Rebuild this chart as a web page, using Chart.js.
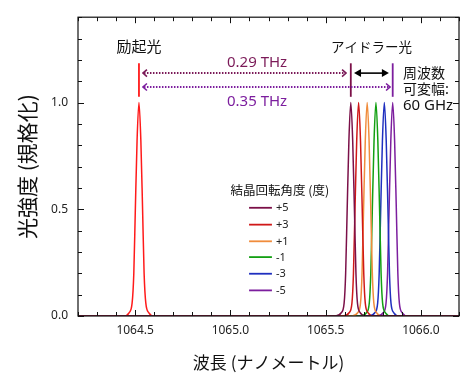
<!DOCTYPE html>
<html>
<head>
<meta charset="utf-8">
<script src="https://cdn.jsdelivr.net/npm/chart.js@4"></script>
<style>
  html, body { margin: 0; padding: 0; background: #fff; }
  canvas { display: block; }
</style>
</head>
<body>
<canvas id="spectrum" width="470" height="387"></canvas>
<script>
// ===== DATA =====
const X_MIN = 1064.2, X_MAX = 1066.2;
const Y_MIN = 0, Y_MAX = 1.4;
const X_MAJOR_TICKS = [1064.5, 1065.0, 1065.5, 1066.0];
const Y_MAJOR_TICKS = [0.0, 0.5, 1.0];

// normalized intensity read along each peak (baseline, flanks, top)
const peakHeights = [0, 0, 0.015, 0.06, 0.2, 0.5, 0.82, 1.0, 0.82, 0.5, 0.2, 0.06, 0.015, 0, 0];

// wavelengths (nm) of the points above, one list per spectrum
const pumpX  = [1064.2, 1064.44, 1064.468, 1064.484, 1064.493, 1064.501, 1064.51, 1064.52, 1064.53, 1064.539, 1064.547, 1064.556, 1064.572, 1064.60, 1066.2];
const idlerP5 = [1064.2, 1065.552, 1065.582, 1065.597, 1065.605, 1065.613, 1065.622, 1065.632, 1065.642, 1065.651, 1065.659, 1065.667, 1065.682, 1065.712, 1066.2];
const idlerP3 = [1064.2, 1065.593, 1065.623, 1065.638, 1065.646, 1065.654, 1065.663, 1065.673, 1065.683, 1065.692, 1065.700, 1065.708, 1065.723, 1065.753, 1066.2];
const idlerP1 = [1064.2, 1065.638, 1065.668, 1065.683, 1065.691, 1065.699, 1065.708, 1065.718, 1065.728, 1065.737, 1065.745, 1065.753, 1065.768, 1065.798, 1066.2];
const idlerM1 = [1064.2, 1065.684, 1065.714, 1065.729, 1065.737, 1065.745, 1065.754, 1065.764, 1065.774, 1065.783, 1065.791, 1065.799, 1065.814, 1065.844, 1066.2];
const idlerM3 = [1064.2, 1065.728, 1065.758, 1065.773, 1065.781, 1065.789, 1065.798, 1065.808, 1065.818, 1065.827, 1065.835, 1065.843, 1065.858, 1065.888, 1066.2];
const idlerM5 = [1064.2, 1065.772, 1065.802, 1065.817, 1065.825, 1065.833, 1065.842, 1065.852, 1065.862, 1065.871, 1065.879, 1065.887, 1065.902, 1065.932, 1066.2];

const legendLabels = ['+5', '+3', '+1', '-1', '-3', '-5'];
const idlerColors  = ['#7B1048', '#D01818', '#F08C3C', '#13A013', '#1F2FBF', '#7C1E9E'];
const PUMP_COLOR = '#FF1A1A';

const JP_FONT = '"Noto Sans CJK JP", "Noto Sans", sans-serif';
const LAT_FONT = '"Noto Sans", "Noto Sans CJK JP", sans-serif';

function toPoints(xs) {
  return xs.map((v, i) => ({ x: v, y: peakHeights[i] }));
}

function lineSet(xs, color) {
  return {
    data: toPoints(xs),
    borderColor: color,
    borderWidth: 1.5,
    pointRadius: 0,
    cubicInterpolationMode: 'monotone',
    fill: false
  };
}

const isMajor = v => Math.abs(v * 2 - Math.round(v * 2)) < 1e-6;

// ===== FRAME, TICKS, ANNOTATIONS =====
const overlay = {
  id: 'overlay',
  afterDatasetsDraw(chart) {
    const { ctx, chartArea: a, scales: { x, y } } = chart;
    const px = v => x.getPixelForValue(v);
    const py = v => y.getPixelForValue(v);

    ctx.save();
    // frame
    ctx.strokeStyle = '#111';
    ctx.lineWidth = 1.2;
    ctx.strokeRect(a.left, a.top, a.right - a.left, a.bottom - a.top);

    // inward ticks on all four sides
    ctx.lineWidth = 1;
    ctx.beginPath();
    x.ticks.forEach(t => {
      const xx = Math.round(px(t.value)) + 0.5;
      const len = isMajor(t.value) ? 6 : 4;
      ctx.moveTo(xx, a.bottom); ctx.lineTo(xx, a.bottom - len);
      ctx.moveTo(xx, a.top);    ctx.lineTo(xx, a.top + len);
    });
    y.ticks.forEach(t => {
      const yy = Math.round(py(t.value)) + 0.5;
      const len = isMajor(t.value) ? 6 : 4;
      ctx.moveTo(a.left, yy);  ctx.lineTo(a.left + len, yy);
      ctx.moveTo(a.right, yy); ctx.lineTo(a.right - len, yy);
    });
    ctx.stroke();

    // marker lines above the peaks
    const marker = (xv, color) => {
      ctx.strokeStyle = color;
      ctx.lineWidth = 1.8;
      ctx.beginPath();
      ctx.moveTo(px(xv), py(1.184));
      ctx.lineTo(px(xv), py(1.027));
      ctx.stroke();
    };
    marker(1064.52, PUMP_COLOR);
    marker(1065.632, idlerColors[0]);
    marker(1065.852, idlerColors[5]);

    // dotted double arrows
    const dotted = (x1, x2, yv, color) => {
      const l = px(x1), r = px(x2), yy = py(yv);
      ctx.strokeStyle = color;
      ctx.lineWidth = 2;
      ctx.setLineDash([1.5, 1.5]);
      ctx.beginPath(); ctx.moveTo(l + 1, yy); ctx.lineTo(r - 1, yy); ctx.stroke();
      ctx.setLineDash([]);
      ctx.lineWidth = 1.6;
      ctx.beginPath();
      ctx.moveTo(l + 4, yy - 3.5); ctx.lineTo(l, yy); ctx.lineTo(l + 4, yy + 3.5);
      ctx.moveTo(r - 4, yy - 3.5); ctx.lineTo(r, yy); ctx.lineTo(r - 4, yy + 3.5);
      ctx.stroke();
    };
    dotted(1064.541, 1065.607, 1.138, '#7B1A58');
    dotted(1064.541, 1065.838, 1.073, '#7C1E9E');

    // solid black double arrow (tuning range)
    {
      const l = px(1065.649), r = px(1065.832), yy = py(1.138);
      ctx.strokeStyle = '#000'; ctx.fillStyle = '#000'; ctx.lineWidth = 1.6;
      ctx.beginPath(); ctx.moveTo(l + 4, yy); ctx.lineTo(r - 4, yy); ctx.stroke();
      ctx.beginPath();
      ctx.moveTo(l, yy); ctx.lineTo(l + 7, yy - 4); ctx.lineTo(l + 7, yy + 4); ctx.closePath();
      ctx.moveTo(r, yy); ctx.lineTo(r - 7, yy - 4); ctx.lineTo(r - 7, yy + 4); ctx.closePath();
      ctx.fill();
    }

    // labels
    ctx.textBaseline = 'middle';
    ctx.textAlign = 'center';
    ctx.fillStyle = '#111';
    ctx.font = '15px ' + JP_FONT;
    ctx.fillText('励起光', px(1064.52), py(1.262));
    ctx.font = '13.5px ' + JP_FONT;
    ctx.fillText('アイドラー光', px(1065.741), py(1.262));

    ctx.font = '15px ' + LAT_FONT;
    ctx.fillStyle = '#7B1A58';
    ctx.fillText('0.29 THz', px(1065.14), py(1.188));
    ctx.fillStyle = '#7C1E9E';
    ctx.fillText('0.35 THz', px(1065.14), py(1.004));

    ctx.textAlign = 'left';
    ctx.fillStyle = '#111';
    ctx.font = '14px ' + JP_FONT;
    ctx.fillText('周波数', px(1065.906), py(1.142));
    ctx.fillText('可変幅:', px(1065.906), py(1.064));
    ctx.font = '15px ' + LAT_FONT;
    ctx.fillText('60 GHz', px(1065.906), py(0.986));

    // legend
    ctx.textAlign = 'center';
    ctx.font = '12.5px ' + JP_FONT;
    ctx.fillText('結晶回転角度 (度)', px(1065.26), py(0.590));
    const rows = [0.507, 0.428, 0.350, 0.276, 0.198, 0.120];
    ctx.textAlign = 'left';
    ctx.font = '11px ' + LAT_FONT;
    legendLabels.forEach((lab, i) => {
      const yy = py(rows[i]);
      ctx.strokeStyle = idlerColors[i];
      ctx.lineWidth = 1.8;
      ctx.beginPath(); ctx.moveTo(px(1065.098), yy); ctx.lineTo(px(1065.218), yy); ctx.stroke();
      ctx.fillStyle = '#222';
      ctx.fillText(lab, px(1065.239), yy + 0.5);
    });
    ctx.restore();
  }
};

// ===== CHART =====
new Chart(document.getElementById('spectrum'), {
  type: 'line',
  data: {
    datasets: [
      lineSet(idlerP5, idlerColors[0]),
      lineSet(idlerP3, idlerColors[1]),
      lineSet(idlerP1, idlerColors[2]),
      lineSet(idlerM1, idlerColors[3]),
      lineSet(idlerM3, idlerColors[4]),
      lineSet(idlerM5, idlerColors[5]),
      lineSet(pumpX, PUMP_COLOR)
    ]
  },
  options: {
    responsive: false,
    animation: false,
    events: [],
    layout: { padding: { left: 0, top: 12, right: 11, bottom: 0 } },
    plugins: { legend: { display: false }, tooltip: { enabled: false } },
    scales: {
      x: {
        type: 'linear',
        min: X_MIN, max: X_MAX,
        grid: { display: false, drawTicks: false },
        border: { display: false },
        ticks: {
          stepSize: 0.1, autoSkip: false, maxRotation: 0, padding: 7,
          color: '#222', font: { family: LAT_FONT, size: 12 },
          callback: v => X_MAJOR_TICKS.some(m => Math.abs(m - v) < 1e-6) ? v.toFixed(1) : ''
        },
        title: {
          display: true, text: '波長 (ナノメートル)', color: '#111',
          font: { family: JP_FONT, size: 17 }, padding: { top: 0, bottom: 14 }
        },
        afterFit: s => { s.height = 71; }
      },
      y: {
        min: Y_MIN, max: Y_MAX,
        grid: { display: false, drawTicks: false },
        border: { display: false },
        ticks: {
          stepSize: 0.1, autoSkip: false, padding: 10,
          color: '#222', font: { family: LAT_FONT, size: 12 },
          callback: v => Y_MAJOR_TICKS.some(m => Math.abs(m - v) < 1e-6) ? v.toFixed(1) : ''
        },
        title: {
          display: true, text: '光強度 (規格化)', color: '#111',
          font: { family: JP_FONT, size: 21 }, padding: { top: 14, bottom: 0 }
        },
        afterFit: s => { s.width = 78; }
      }
    }
  },
  plugins: [overlay]
});
</script>
</body>
</html>
